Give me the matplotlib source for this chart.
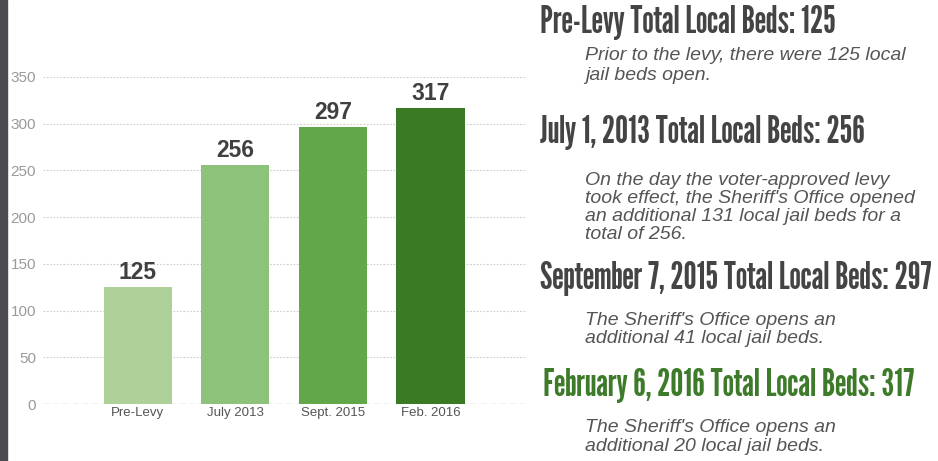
import matplotlib.pyplot as plt
import matplotlib.patches as mpatches

categories = ['Pre-Levy', 'July 2013', 'Sept. 2015', 'Feb. 2016']
beds = [125, 256, 297, 317]
bar_colors = ['#aed19a', '#8dc27a', '#63a74b', '#3b7a24']

headings = ['Pre-Levy Total Local Beds: 125',
            'July 1, 2013 Total Local Beds: 256',
            'September 7, 2015 Total Local Beds: 297',
            'February 6, 2016 Total Local Beds: 317']
heading_colors = ['#444444', '#444444', '#444444', '#3d7a2a']
notes = [['Prior to the levy, there were 125 local', 'jail beds open.'],
         ['On the day the voter-approved levy',
          'took effect, the Sheriff\'s Office opened',
          'an additional 131 local jail beds for a',
          'total of 256.'],
         ['The Sheriff\'s Office opens an', 'additional 41 local jail beds.'],
         ['The Sheriff\'s Office opens an', 'additional 20 local jail beds.']]

HEAD_FONT = ['League Gothic', 'Oswald', 'Roboto Condensed', 'DejaVu Sans']

W, H = 938, 461
fig = plt.figure(figsize=(W / 100, H / 100), dpi=100)
fig.patch.set_facecolor('white')

# dark strip on the left edge
fig.patches.append(mpatches.Rectangle((0, 0), 7 / W, 1, transform=fig.transFigure,
                                      color='#4b4b50', zorder=0))

# axes: y=0 at px 404, y=350 at px 77
ax = fig.add_axes([43 / W, (H - 404) / H, (527 - 43) / W, (404 - 77) / H])
x = range(len(categories))
ax.bar(x, beds, width=0.7, color=bar_colors, zorder=3)
for xi, v in zip(x, beds):
    ax.text(xi, v + 3, str(v), ha='center', va='bottom', fontsize=16.5,
            fontweight='bold', color='#404040', family='Liberation Sans', zorder=4)

ax.set_xlim(-0.97, 3.99)
ax.set_ylim(0, 350)
ax.set_yticks(range(0, 351, 50))
ax.set_xticks(list(x))
ax.set_xticklabels(categories, fontsize=9.5, color='#555555', family='Liberation Sans')
ax.tick_params(axis='y', labelsize=11, labelcolor='#9a9a9a', length=0, pad=5)
ax.tick_params(axis='x', length=0, pad=2)
for lab in ax.get_yticklabels():
    lab.set_family('Liberation Sans')
ax.yaxis.grid(True, linestyle=(0, (1.5, 1.5)), color='#cccccc', linewidth=0.8, zorder=0)
for s in ax.spines.values():
    s.set_visible(False)
ax.axhline(0, color='#c8c8c8', linestyle=(0, (4, 3)), linewidth=1, zorder=2)

# right-hand text panel (baselines in pixels from top)
head_x = [540, 540, 540, 543]
head_base = [33, 143, 289, 396]
note_base = [[60, 80], [185, 203, 221, 239], [325, 343], [432, 451]]
for i in range(4):
    fig.text(head_x[i] / W, 1 - head_base[i] / H, headings[i], ha='left', va='baseline',
             fontsize=26.5, color=heading_colors[i], family=HEAD_FONT)
    for line, yb in zip(notes[i], note_base[i]):
        fig.text(585 / W, 1 - yb / H, line, ha='left', va='baseline',
                 fontsize=14, style='italic', color='#555555', family='Liberation Sans')

fig.savefig('out.png', dpi=100)
